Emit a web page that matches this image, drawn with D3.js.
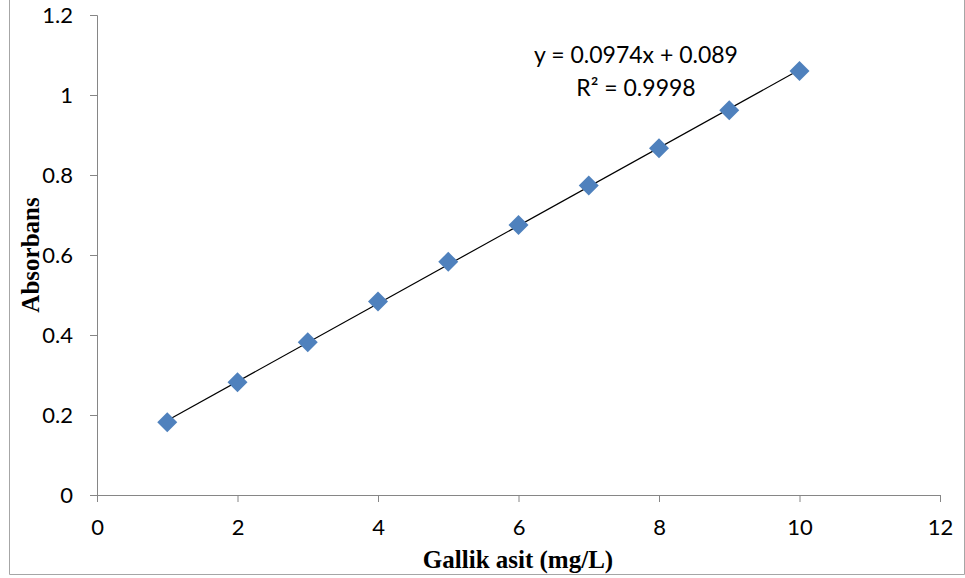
<!DOCTYPE html>
<html>
<head>
<meta charset="utf-8">
<script src="https://cdn.jsdelivr.net/npm/d3@7"></script>
<style>
  body { margin: 0; background: #fff; }
  svg { display: block; }
</style>
</head>
<body>
<svg id="chart"></svg>
<script>
// gallic acid standard curve
var concentration = [1, 2, 3, 4, 5, 6, 7, 8, 9, 10];
var absorbance = [0.182, 0.282, 0.382, 0.484, 0.583, 0.675, 0.774, 0.867, 0.962, 1.06];
var slope = 0.0974, intercept = 0.089;
var xTicks = [0, 2, 4, 6, 8, 10, 12];
var yTicks = [0, 0.2, 0.4, 0.6, 0.8, 1, 1.2];

var width = 965, height = 578;
var margin = {left: 97, right: 25, top: 15, bottom: 83};

var svg = d3.select('#chart')
  .attr('width', width)
  .attr('height', height);

var x = d3.scaleLinear().domain([0, 12]).range([margin.left, width - margin.right]);
var y = d3.scaleLinear().domain([0, 1.2]).range([height - margin.bottom, margin.top]);

// outer frame (top edge is cropped in the original)
svg.append('path')
  .attr('d', 'M9.5,0 V574.5 H964.5 V0')
  .attr('fill', 'none')
  .attr('stroke', '#a6a6a6')
  .attr('stroke-width', 1);

var font = "Lato, 'Open Sans', sans-serif";

var xAxis = svg.append('g')
  .attr('transform', 'translate(0,' + y(0) + ')')
  .call(d3.axisBottom(x).tickValues(xTicks).tickSize(7).tickPadding(17).tickFormat(d3.format('d')));

var yAxis = svg.append('g')
  .attr('transform', 'translate(' + x(0) + ',0)')
  .call(d3.axisLeft(y).tickValues(yTicks).tickSize(7).tickPadding(17).tickFormat(function(d){ return String(+d.toFixed(1)); }));

[xAxis, yAxis].forEach(function(a){
  a.select('.domain').attr('stroke', '#868686');
  a.selectAll('.tick line').attr('stroke', '#868686');
  a.selectAll('.tick text')
    .attr('fill', '#000')
    .style('font-family', font)
    .style('font-size', '22px');
});

// trendline
svg.append('line')
  .attr('x1', x(1)).attr('y1', y(slope * 1 + intercept))
  .attr('x2', x(10)).attr('y2', y(slope * 10 + intercept))
  .attr('stroke', '#000')
  .attr('stroke-width', 1.2);

// markers
svg.selectAll('path.pt')
  .data(concentration)
  .enter().append('path')
    .attr('class', 'pt')
    .attr('d', d3.symbol().type(d3.symbolSquare).size(200))
    .attr('transform', function(d, i){ return 'translate(' + x(d) + ',' + y(absorbance[i]) + ') rotate(45)'; })
    .attr('fill', '#4f81bd');

// equation label
svg.append('text')
  .attr('x', 636).attr('y', 63)
  .attr('text-anchor', 'middle')
  .style('font-family', font).style('font-size', '23px')
  .text('y = 0.0974x + 0.089');
svg.append('text')
  .attr('x', 636).attr('y', 96)
  .attr('text-anchor', 'middle')
  .style('font-family', font).style('font-size', '23px')
  .text('R² = 0.9998');

// axis titles
svg.append('text')
  .attr('x', 518).attr('y', 568)
  .attr('text-anchor', 'middle')
  .style('font-family', "'Liberation Serif', serif")
  .style('font-weight', 'bold')
  .style('font-size', '25px')
  .text('Gallik asit (mg/L)');

svg.append('text')
  .attr('transform', 'translate(39,255) rotate(-90)')
  .attr('text-anchor', 'middle')
  .style('font-family', "'Liberation Serif', serif")
  .style('font-weight', 'bold')
  .style('font-size', '25px')
  .text('Absorbans');
</script>
</body>
</html>
